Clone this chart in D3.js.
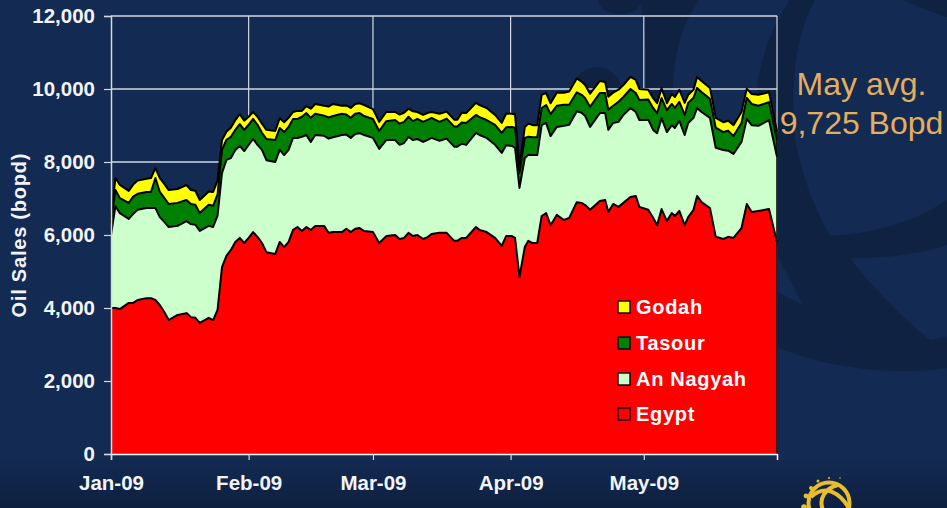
<!DOCTYPE html>
<html><head><meta charset="utf-8">
<script src="https://cdn.jsdelivr.net/npm/d3@7"></script>
<style>html,body{margin:0;padding:0;background:#132a52;overflow:hidden}svg{display:block}text{font-family:"Liberation Sans",Arial,sans-serif}</style>
</head><body><svg id="c" width="947" height="508"></svg>
<script>
const dayOffsets=[0,1,2,4,5,6,8,9,10,11,12,13,15,17,18,19,20,22,23,24,25,26,27,28,29,30,31,32,33,34,35,37,38,39,40,41,42,43,44,45,46,48,49,50,52,53,54,55,56,57,59,60.4,62,64,65,66,67,68,69,70.3,71.4,72.2,74,75.6,77.3,78,79,80,82.2,83,84.6,86.5,88,89,90.3,91,92,93.2,94,95,96,97,98,99,100.4,102,103.2,104.9,106,106.8,107.9,110.1,111.3,112,113.1,114.3,115.4,117,118.2,119,121,122.1,123,124,125.2,126.3,127,128,129.2,130,131.2,132,133,134.9,136.2,137.9,139,140.2,142,143.2,144.3,145.8,148.2,150];
const egypt=[4000,4000,3970,4140,4140,4220,4270,4270,4220,4080,3890,3670,3810,3860,3750,3730,3590,3730,3670,3950,5120,5430,5590,5810,5920,5780,5920,6080,5950,5780,5530,5480,5810,5670,5810,6140,6220,6110,6220,6140,6250,6250,6060,6080,6080,6170,6080,6170,6190,6110,6080,5780,5970,6000,5890,5920,6060,5970,6000,5890,5950,6030,6060,6060,5840,5840,5920,5920,6220,6140,6080,5920,5700,5970,5970,5920,4850,5670,5840,5780,5780,6520,6600,6270,6550,6410,6470,6900,6880,6820,6690,6930,6960,6630,6850,6770,6880,7040,7070,6770,6690,6470,6270,6710,6380,6600,6520,6660,6270,6490,6690,7070,6900,6740,5950,5890,5950,5920,6190,6850,6630,6660,6710,5810];
const anNagyah=[2000,2790,2630,2300,2440,2470,2470,2470,2520,2410,2470,2550,2440,2520,2550,2550,2520,2520,2550,2580,2580,2630,2520,2520,2520,2520,2550,2550,2520,2550,2520,2520,2520,2520,2520,2520,2440,2580,2520,2410,2490,2470,2580,2600,2660,2580,2580,2600,2600,2630,2580,2580,2630,2600,2580,2600,2630,2630,2630,2660,2660,2630,2520,2580,2580,2580,2580,2550,2580,2600,2580,2550,2550,2490,2470,2470,2440,2440,2360,2410,2410,2490,2470,2440,2410,2580,2550,2490,2470,2440,2270,2410,2380,2250,2220,2330,2410,2440,2300,2380,2470,2410,2520,2490,2440,2410,2410,2470,2470,2580,2520,2410,2470,2470,2440,2440,2360,2300,2360,2330,2380,2330,2440,2330];
const tasour=[330,440,410,440,470,440,440,440,820,690,660,630,630,580,550,550,490,580,580,580,630,550,580,550,600,580,550,550,550,470,580,600,600,630,630,520,520,550,600,660,580,550,580,580,580,550,550,550,550,520,520,490,520,550,580,580,550,520,550,550,550,550,520,550,550,550,580,600,490,490,490,550,550,490,520,550,410,550,490,490,490,470,490,600,580,580,550,520,490,490,550,550,550,550,470,550,490,520,520,550,550,600,550,550,600,580,550,520,550,550,550,550,550,520,550,490,550,490,520,580,580,550,490,470];
const godah=[160,330,360,330,330,360,360,380,270,380,380,380,380,410,380,380,360,360,380,380,270,220,250,270,270,250,220,190,220,250,250,250,270,270,250,190,220,160,190,250,270,270,300,330,220,250,270,270,270,300,270,250,250,220,250,250,220,270,190,190,190,160,220,190,190,190,270,270,330,330,330,270,270,380,360,360,160,300,360,330,330,360,330,300,360,330,360,380,360,360,360,330,300,360,360,330,330,330,360,300,270,270,270,270,190,270,300,330,330,220,220,300,300,300,270,270,270,300,300,250,270,300,270,220];
const seriesNames=["Egypt","An Nagyah","Tasour","Godah"];
const seriesColors=["#ff0000","#ccffcc","#008000","#ffff00"];
const legendOrder=["Godah","Tasour","An Nagyah","Egypt"];
const yTicks=[0,2000,4000,6000,8000,10000,12000];
const xTickDays=[0,31,59,90,120];
const xTickLabels=["Jan-09","Feb-09","Mar-09","Apr-09","May-09"];
const yTitle="Oil Sales (bopd)";
const noteLines=["May avg.","9,725 Bopd"];

const rows=dayOffsets.map((d,i)=>({d,"Egypt":egypt[i],"An Nagyah":anNagyah[i],"Tasour":tasour[i],"Godah":godah[i]}));
const svg=d3.select("#c");
const x=d3.scaleLinear().domain([0,150]).range([111,777]);
const y=d3.scaleLinear().domain([0,12000]).range([454,16]);

// background
const defs=svg.append("defs");
const g=defs.append("linearGradient").attr("id","bg").attr("x1",0).attr("x2",0).attr("y1",0).attr("y2",1);
g.append("stop").attr("offset","0.9").attr("stop-color","#132a52");
g.append("stop").attr("offset","1").attr("stop-color","#0e2040");
svg.append("rect").attr("width",947).attr("height",508).attr("fill","url(#bg)");
const wm=svg.append("g").attr("fill","#0f2242");
wm.append("path").attr("d","M777,140 L795,140 C802,175 815,210 830,236 C870,234 915,222 947,200 L947,245 C915,256 880,258 850,258 C875,290 905,320 930,340 L947,337 L947,368 C900,375 830,370 777,347 L777,292 L803,305 L777,255 Z");
wm.append("path").attr("d","M815,0 C795,35 790,90 795,140 L777,140 L757,90 C760,60 770,30 790,0 Z");
wm.append("path").attr("d","M640,0 L700,0 C680,25 672,60 672,110 L645,110 C648,70 646,30 640,0 Z");
wm.append("path").attr("d","M903,0 C920,8 935,13 947,17 L947,0 Z");
wm.append("circle").attr("cx",597).attr("cy",92).attr("r",25);
wm.append("path").attr("d","M598,0 A22,14 0 0 0 642,0 Z");

// grid
const axisCol="#d4d8e0";
svg.append("g").selectAll("line").data(yTicks.filter(t=>t>0)).join("line")
  .attr("x1",x(0)).attr("x2",x(150)).attr("y1",d=>y(d)).attr("y2",d=>y(d)).attr("stroke",axisCol).attr("stroke-width",1.5);
svg.append("g").selectAll("line").data(xTickDays.slice(1).concat([150])).join("line")
  .attr("x1",d=>x(d)).attr("x2",d=>x(d)).attr("y1",y(12000)).attr("y2",y(0)).attr("stroke",axisCol).attr("stroke-width",1.2);

// stacked areas
const stack=d3.stack().keys(seriesNames);
const layers=stack(rows);
const area=d3.area().x(d=>x(d.data.d)).y0(d=>y(d[0])).y1(d=>y(d[1]));
const line=d3.line().x(d=>x(d.data.d)).y(d=>y(d[1]));
svg.append("g").selectAll("path").data(layers).join("path")
  .attr("d",area).attr("fill",(d,i)=>seriesColors[i]);
svg.append("g").selectAll("path").data(layers).join("path")
  .attr("d",line).attr("fill","none").attr("stroke","#000").attr("stroke-width",2).attr("stroke-linejoin","round");
const last=rows[rows.length-1];
svg.append("line").attr("x1",x(150)).attr("x2",x(150)).attr("y1",y(last.Egypt+last["An Nagyah"]+last.Tasour+last.Godah)).attr("y2",y(0)).attr("stroke","#000").attr("stroke-width",1.5);

// axes
const yAxis=d3.axisLeft(y).tickValues(yTicks).tickFormat(d3.format(",")).tickSize(7).tickPadding(9);
const gy=svg.append("g").attr("transform",`translate(${x(0)},0)`).call(yAxis);
const xAxis=d3.axisBottom(x).tickValues(xTickDays).tickFormat((d,i)=>xTickLabels[i]).tickSize(6).tickPadding(15);
const gx=svg.append("g").attr("transform",`translate(0,${y(0)})`).call(xAxis);
[gy,gx].forEach(a=>{a.selectAll("path.domain").attr("stroke",axisCol).attr("stroke-width",1.5);
  a.selectAll("line").attr("stroke",axisCol).attr("stroke-width",1.2);
  a.selectAll("text").attr("fill","#f2f4f8").attr("font-size",20.5).attr("font-weight","bold").attr("font-family",'"Liberation Sans",Arial,sans-serif');});
gx.select("path.domain").attr("stroke","#ffffff");

svg.append("text").attr("transform","translate(26,235.5) rotate(-90)").attr("text-anchor","middle")
  .attr("fill","#f2f4f8").attr("font-size",20).attr("font-weight","bold")
  .attr("textLength",164).attr("lengthAdjust","spacing").text(yTitle);

// legend
const lg=svg.append("g").selectAll("g").data(legendOrder).join("g")
  .attr("transform",(d,i)=>`translate(618,${[307,343,379,414][i]})`);
lg.append("rect").attr("x",0).attr("y",-6).attr("width",12).attr("height",12).attr("stroke","#000").attr("stroke-width",1.4)
  .attr("fill",d=>seriesColors[seriesNames.indexOf(d)]);
lg.append("text").attr("x",18).attr("y",6.5).attr("fill","#fff").attr("font-size",20).attr("font-weight","bold").attr("letter-spacing",0.7).text(d=>d);

// note
svg.append("g").selectAll("text").data(noteLines).join("text")
  .attr("x",861.5).attr("y",(d,i)=>[95,134][i]).attr("text-anchor","middle")
  .attr("fill","#e3ae5e").attr("font-size",32).text(d=>d);

// logo
const logo=svg.append("g").attr("fill","none").attr("stroke","#e8bd2e").attr("stroke-width",4);
logo.append("circle").attr("cx",829).attr("cy",503).attr("r",20.5);
logo.append("path").attr("d","M811,497 C825,484 840,492 850,510 M823,510 C818,498 826,488 838,485");
svg.append("g").attr("fill","#e8bd2e").selectAll("circle").data([[804,507,2.8],[806,496,2.4],[811,488,2],[818,481,1.5],[829,478,1],[840,478,.8]]).join("circle")
  .attr("cx",d=>d[0]).attr("cy",d=>d[1]).attr("r",d=>d[2]);
</script></body></html>
